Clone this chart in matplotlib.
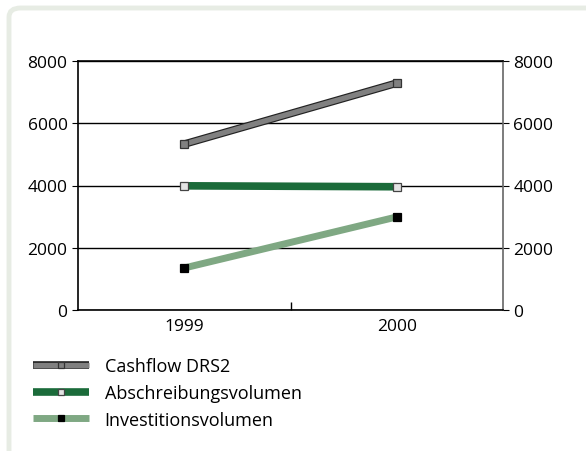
import numpy as np
import matplotlib.pyplot as plt
import matplotlib.patheffects as pe
from matplotlib.patches import FancyBboxPatch
from matplotlib.lines import Line2D

plt.rcParams['font.family'] = ['Open Sans', 'DejaVu Sans']

years = ['1999', '2000']
cashflow = [5330, 7290]
abschreibung = [3990, 3960]
investition = [1350, 2990]
labels = ['Cashflow DRS2', 'Abschreibungsvolumen', 'Investitionsvolumen']

fig = plt.figure(figsize=(5.86, 4.52), dpi=100)

# rounded frame around the whole graphic
frame = FancyBboxPatch((9 / 586, -0.05), 1.2, 1.05 - 9 / 452,
                       boxstyle='round,pad=0,rounding_size=0.02',
                       transform=fig.transFigure, facecolor='white',
                       edgecolor='#e7ece4', linewidth=3.5, zorder=-10)
fig.patches.append(frame)

ax = fig.add_axes([78 / 586, 1 - 311 / 452, 425 / 586, 249 / 452])
ax.set_facecolor('none')
x = np.arange(len(years))

outline = [pe.Stroke(linewidth=5.5, foreground='#222222'), pe.Normal()]
cf_style = dict(color='#808080', lw=3.8, solid_capstyle='butt')
ab_style = dict(color='#1b6b3a', lw=5.5, solid_capstyle='butt')
iv_style = dict(color='#7fa883', lw=5, solid_capstyle='butt')
cf_mark = dict(marker='s', mfc='#808080', mec='#333333', mew=0.9)
ab_mark = dict(marker='s', mfc='#e4e4e4', mec='#444444', mew=0.9)
iv_mark = dict(marker='s', mfc='black', mec='black', mew=0.9)

ax.plot(x, cashflow, path_effects=outline, zorder=4, **cf_style)
ax.plot(x, cashflow, ls='none', ms=5.5, zorder=5, **cf_mark)
ax.plot(x, abschreibung, zorder=4, **ab_style)
ax.plot(x, abschreibung, ls='none', ms=5.5, zorder=5, **ab_mark)
ax.plot(x, investition, zorder=4, **iv_style)
ax.plot(x, investition, ls='none', ms=5.5, zorder=5, **iv_mark)

ax.set_xlim(-0.5, 1.5)
ax.set_ylim(0, 8000)
ax.set_yticks([0, 2000, 4000, 6000, 8000])
ax.set_xticks(x)
ax.set_xticklabels(years)
ax.set_xticks([0.5], minor=True)
ax.tick_params(axis='x', which='major', length=0, labelsize=12.5, pad=6)
ax.tick_params(axis='x', which='minor', direction='in', length=6, width=1)
ax.tick_params(axis='y', direction='out', length=4, labelsize=12.5,
               left=True, right=True, labelleft=True, labelright=True)
ax.grid(axis='y', color='black', lw=1)
for side in ['left', 'top', 'bottom']:
    ax.spines[side].set_color('black')
ax.spines['right'].set_color('#666666')
for sp in ax.spines.values():
    sp.set_linewidth(1.2)

# legend handles: line with a single marker in the middle
handles = [
    (Line2D([], [], path_effects=outline, **cf_style),
     Line2D([], [], ls='none', ms=5, **cf_mark)),
    (Line2D([], [], **ab_style), Line2D([], [], ls='none', ms=5, **ab_mark)),
    (Line2D([], [], **iv_style), Line2D([], [], ls='none', ms=5, **iv_mark)),
]
fig.legend(handles, labels, loc='upper left',
           bbox_to_anchor=(17 / 586, 1 - 342 / 452),
           frameon=False, fontsize=13, handlelength=3.1, numpoints=1,
           labelspacing=0.48, handletextpad=0.85)

fig.savefig('out.png', dpi=100)
